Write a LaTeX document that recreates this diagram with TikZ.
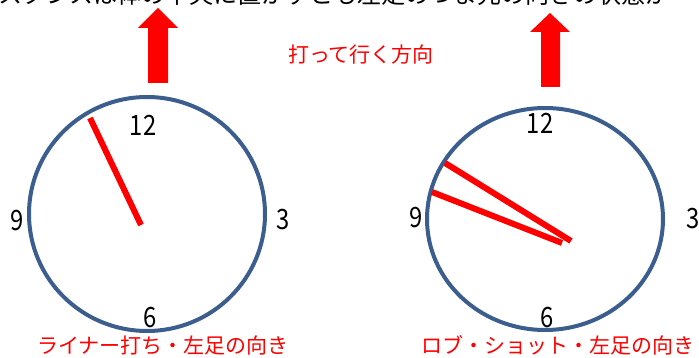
\documentclass[tikz,border=0pt]{standalone}
\usepackage{fontspec}
\setmainfont{Noto Sans CJK JP}
\begin{document}
\begin{tikzpicture}[x=1pt,y=-1pt,
  rim/.style={draw=rimblue,line width=4pt},
  hand/.style={draw=red,line width=6pt},
  num/.style={font=\fontsize{28}{28}\selectfont,inner sep=0pt,text=black,xscale=0.85,transform shape},
  redlabel/.style={font=\fontsize{21}{21}\selectfont,inner sep=0pt,text=red},
  bigarrow/.style={fill=red,draw=none}]
\definecolor{rimblue}{HTML}{3B5E8E}
\useasboundingbox (0,0) rectangle (699,358);
\clip (0,0) rectangle (699,358);
% clipped text line at top
\node[anchor=base west,inner sep=0pt,font=\fontsize{24}{24}\selectfont,text=black] (topline) at (-2,4) {スタンスは体の中央に置かずとも左足のつま先の向きの状態が};
% arrows
\fill[bigarrow] (148,83) -- (148,28) -- (138,28) -- (158,8) -- (178,28) -- (168,28) -- (168,83) -- cycle;
\fill[bigarrow] (541,87) -- (541,32) -- (530,32) -- (550,13) -- (570,32) -- (560,32) -- (560,87) -- cycle;
\node[redlabel] (dir) at (361,55) {打って行く方向};
% left clock
\coordinate (lc) at (147,214);
\draw[rim] (lc) ellipse [x radius=118,y radius=117];
\node[num] (l12) at (143,125) {12};
\node[num] (l9) at (17,221) {9};
\node[num] (l3) at (283,220) {3};
\node[num] (l6) at (150,318) {6};
\coordinate (la) at (90,118);
\coordinate (lb) at (141,225);
\draw[hand] (la) -- (lb);
\node[redlabel] (llab) at (163,345) {ライナー打ち・左足の向き};
% right clock
\coordinate (rc) at (545,219);
\draw[rim] (rc) ellipse [x radius=118,y radius=111];
\node[num] (r12) at (540,123) {12};
\node[num] (r9) at (416,218) {9};
\node[num] (r3) at (693,219) {3};
\node[num] (r6) at (547,318) {6};
\coordinate (ra1) at (445,163);
\coordinate (rb1) at (571,241);
\coordinate (ra2) at (432,192);
\coordinate (rb2) at (562,243);
\draw[hand] (ra1) -- (rb1);
\draw[hand] (ra2) -- (rb2);
\node[redlabel] (rlab) at (558,345) {ロブ・ショット・左足の向き};
\end{tikzpicture}
\end{document}
